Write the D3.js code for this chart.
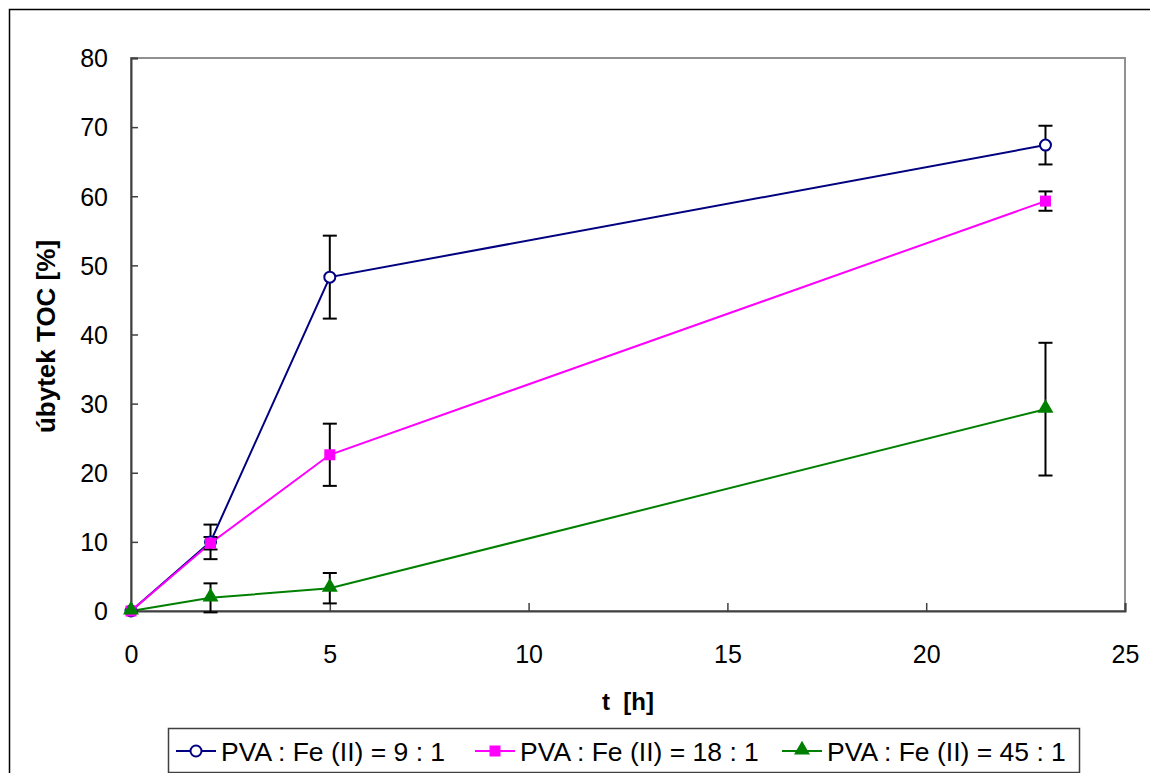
<!DOCTYPE html>
<html>
<head>
<meta charset="utf-8">
<script src="https://cdn.jsdelivr.net/npm/d3@7.9.0/dist/d3.min.js"></script>
<style>
  body { margin: 0; background: #fff; }
  svg { display: block; font-family: Arial, "Liberation Sans", sans-serif; }
</style>
</head>
<body>
<svg id="chart" width="1150" height="773"></svg>
<script>
// DATA
const times = [0, 2, 5, 23];
const seriesNames = ['PVA : Fe (II) = 9 : 1', 'PVA : Fe (II) = 18 : 1', 'PVA : Fe (II) = 45 : 1'];
const toc9 = [0, 10.0, 48.3, 67.4];
const toc18 = [0, 9.8, 22.6, 59.3];
const toc45 = [0, 1.9, 3.3, 29.2];
const err9 = [0, 2.5, 6.0, 2.8];
const err18 = [0, 0.9, 4.5, 1.4];
const err45 = [0, 2.1, 2.2, 9.6];
const xTicks = [0, 5, 10, 15, 20, 25];
const yTicks = [0, 10, 20, 30, 40, 50, 60, 70, 80];

const series = [
  { name: seriesNames[0], values: toc9, errors: err9, color: '#000080', marker: 'circle' },
  { name: seriesNames[1], values: toc18, errors: err18, color: '#ff00ff', marker: 'square' },
  { name: seriesNames[2], values: toc45, errors: err45, color: '#008000', marker: 'triangle' }
];

const svg = d3.select('#chart');
const plot = { left: 131, right: 1125, top: 58, bottom: 611 };

const x = d3.scaleLinear().domain([0, 25]).range([plot.left, plot.right]);
const y = d3.scaleLinear().domain([0, 80]).range([plot.bottom, plot.top]);

// outer chart frame (runs off the page right/bottom)
svg.append('rect')
  .attr('x', 9.5).attr('y', 9.5)
  .attr('width', 1200).attr('height', 800)
  .attr('fill', 'none').attr('stroke', '#000').attr('stroke-width', 1.5);

// plot area frame
svg.append('rect')
  .attr('x', plot.left).attr('y', plot.top)
  .attr('width', plot.right - plot.left).attr('height', plot.bottom - plot.top)
  .attr('fill', 'none').attr('stroke', '#909090').attr('stroke-width', 2);

// axes (ticks point inward)
const xAxis = svg.append('g')
  .attr('transform', `translate(0,${plot.bottom})`)
  .call(d3.axisBottom(x).tickValues(xTicks).tickSize(-8).tickPadding(34).tickFormat(d3.format('d')));
const yAxis = svg.append('g')
  .attr('transform', `translate(${plot.left},0)`)
  .call(d3.axisLeft(y).tickValues(yTicks).tickSize(-7).tickPadding(23).tickFormat(d3.format('d')));

[xAxis, yAxis].forEach(a => {
  a.select('.domain').attr('stroke', '#404040').attr('stroke-width', 2);
  a.selectAll('.tick line').attr('stroke', '#404040').attr('stroke-width', 1.5);
  a.selectAll('.tick text').attr('fill', '#000').style('font-size', '25px')
    .style('font-family', 'Arial, "Liberation Sans", sans-serif');
});
yAxis.selectAll('.tick text').attr('dy', '0.35em');

// axis titles
svg.append('text')
  .attr('x', (plot.left + plot.right) / 2).attr('y', 710)
  .attr('text-anchor', 'middle')
  .style('font-size', '24px').style('font-weight', 'bold')
  .attr('xml:space', 'preserve')
  .text('t  [h]');

svg.append('text')
  .attr('transform', `translate(55,${(plot.top + plot.bottom) / 2 + 2}) rotate(-90)`)
  .attr('text-anchor', 'middle')
  .style('font-size', '26px').style('font-weight', 'bold')
  .text('úbytek TOC [%]');

// lines
const line = d3.line().x((d, i) => x(times[i])).y(d => y(d));

series.forEach(s => {
  svg.append('path')
    .datum(s.values)
    .attr('d', line)
    .attr('fill', 'none')
    .attr('stroke', s.color)
    .attr('stroke-width', 2);
});

// error bars
series.forEach(s => {
  const g = svg.append('g').attr('stroke', '#000').attr('stroke-width', 2);
  s.values.forEach((v, i) => {
    const e = s.errors[i];
    if (!e) return;
    const cx = x(times[i]);
    g.append('line').attr('x1', cx).attr('x2', cx).attr('y1', y(v + e)).attr('y2', y(v - e));
    g.append('line').attr('x1', cx - 7).attr('x2', cx + 7).attr('y1', y(v + e)).attr('y2', y(v + e));
    g.append('line').attr('x1', cx - 7).attr('x2', cx + 7).attr('y1', y(v - e)).attr('y2', y(v - e));
  });
});

// markers
function drawMarker(g, type, cx, cy, color) {
  if (type === 'circle') {
    g.append('circle').attr('cx', cx).attr('cy', cy).attr('r', 5.5)
      .attr('fill', '#fff').attr('stroke', color).attr('stroke-width', 2);
  } else if (type === 'square') {
    g.append('rect').attr('x', cx - 5.5).attr('y', cy - 5.5).attr('width', 11).attr('height', 11)
      .attr('fill', color);
  } else {
    g.append('path')
      .attr('d', d3.symbol().type(d3.symbolTriangle).size(110)())
      .attr('transform', `translate(${cx},${cy - 1})`)
      .attr('fill', color);
  }
}

series.forEach(s => {
  const g = svg.append('g');
  s.values.forEach((v, i) => drawMarker(g, s.marker, x(times[i]), y(v), s.color));
});

// legend
const legend = svg.append('g');
legend.append('rect')
  .attr('x', 168.5).attr('y', 728.5).attr('width', 911).attr('height', 44)
  .attr('fill', '#fff').attr('stroke', '#404040').attr('stroke-width', 1.5);

const legendMarkerX = [196, 495, 802];
series.forEach((s, i) => {
  const mx = legendMarkerX[i];
  const ly = 751;
  legend.append('line')
    .attr('x1', mx - 20).attr('x2', mx + 20).attr('y1', ly).attr('y2', ly)
    .attr('stroke', s.color).attr('stroke-width', 2);
  drawMarker(legend, s.marker, mx, ly, s.color);
  legend.append('text')
    .attr('x', mx + 25).attr('y', ly)
    .attr('dy', '0.36em')
    .style('font-size', '26.5px')
    .text(s.name);
});
</script>
</body>
</html>
